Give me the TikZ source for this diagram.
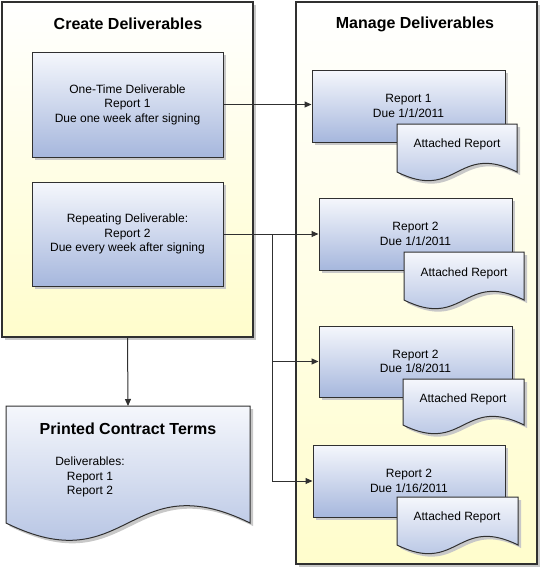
\documentclass[tikz,border=0pt]{standalone}
\usepackage{fontspec}
\setmainfont{Liberation Sans}
\usetikzlibrary{positioning,shadows,arrows.meta}
\definecolor{boxtop}{HTML}{F5F7FC}
\definecolor{boxbot}{HTML}{A6B7DD}
\definecolor{lanetop}{HTML}{FFFFFF}
\definecolor{lanebot}{HTML}{FFFDCC}
\definecolor{shadowc}{HTML}{C8C8C8}
\definecolor{linec}{HTML}{303030}
\tikzset{
  lane/.style={
    rectangle,
    draw=linec,
    line width=1.2pt,
    top color=lanetop,
    bottom color=lanebot,
    drop shadow={shadow xshift=3pt, shadow yshift=-3pt, fill=shadowc, opacity=1},
  },
  task/.style={
    rectangle,
    draw=linec,
    line width=1pt,
    inner sep=0pt,
    top color=boxtop,
    bottom color=boxbot,
    align=center,
    font=\fontsize{12}{14.5}\selectfont,
    drop shadow={shadow xshift=3pt, shadow yshift=-3pt, fill=shadowc, opacity=1},
  },
  lanetitle/.style={font=\bfseries\fontsize{16}{18}\selectfont},
  doctext/.style={align=center, font=\fontsize{12}{14.5}\selectfont},
  flow/.style={-{Triangle[length=7pt,width=6pt]}, line width=1pt, linec},
}
% wavy document: x0, y0, width, side height, bend
\newcommand\docshape[5]{%
  \fill[shadowc] ({#1+3},{#2+3}) -- ++(#3,0) -- ++(0,#4)
    .. controls ({#1+3+0.5*#3},{#2+3+#4-#5}) and ({#1+3+0.5*#3},{#2+3+#4+#5}) .. ({#1+3},{#2+3+#4}) -- cycle;
  \draw[line width=1pt, draw=linec, top color=boxtop, bottom color=boxbot]
    (#1,#2) -- ++(#3,0) -- ++(0,#4)
    .. controls ({#1+0.5*#3},{#2+#4-#5}) and ({#1+0.5*#3},{#2+#4+#5}) .. (#1,{#2+#4}) -- cycle;
}

\begin{document}
\begin{tikzpicture}[x=1pt, y=-1pt]
  \useasboundingbox (0,0) rectangle (540,570);

  % Create side
  \node[lane, minimum width=251pt, minimum height=335pt] (create) at (127.5,169.5) {};
  \node[lanetitle] (createtitle) at (128,24) {Create Deliverables};
  \node[task, minimum width=191pt, minimum height=105pt] (onetime) at (127.5,104.5)
    {One-Time Deliverable\\Report 1\\Due one week after signing};
  \node[task, minimum width=191pt, minimum height=104pt] (repeating) at (127.5,234)
    {Repeating Deliverable:\\Report 2\\Due every week after signing};

  % Printed terms
  \docshape{6}{406}{244}{117}{60}
  \node[minimum width=244pt, minimum height=117pt, inner sep=0pt, anchor=north] (printed) at (128,406) {};
  \node[lanetitle] (printedtitle) at (128,429) {Printed Contract Terms};
  \node[doctext] (printedlist) at (90,477) {Deliverables:\\Report 1\\Report 2};

  % Manage side
  \node[lane, minimum width=241pt, minimum height=562pt] (manage) at (416.5,283) {};
  \node[lanetitle] (managetitle) at (415,24) {Manage Deliverables};

  \node[task, minimum width=193pt, minimum height=72pt] (rone) at (408.5,106)
    {Report 1\\Due 1/1/2011};
  \docshape{397}{124}{120}{48}{30}
  \node[doctext] (attone) at (457,144) {Attached Report};

  \node[task, minimum width=193pt, minimum height=72pt] (rtwo) at (415.5,234)
    {Report 2\\Due 1/1/2011};
  \docshape{404}{252}{120}{48}{30}
  \node[doctext] (atttwo) at (464,273) {Attached Report};

  \node[task, minimum width=193pt, minimum height=71pt] (rthree) at (415.5,361.5)
    {Report 2\\Due 1/8/2011};
  \docshape{403}{379}{121}{46}{30}
  \node[doctext] (attthree) at (463,399) {Attached Report};

  \node[task, minimum width=192pt, minimum height=72pt] (rfour) at (409,481)
    {Report 2\\Due 1/16/2011};
  \docshape{397}{497}{121}{48}{30}
  \node[doctext] (attfour) at (457,517) {Attached Report};

  % Arrows
  \draw[flow] (create.south) -- (printed.north);
  \draw[flow] (onetime.east) -- (onetime.east -| rone.west);
  \draw[flow] (repeating.east) -- (rtwo.west);
  \coordinate (split) at (272,234);
  \draw[flow] (split) |- (rthree.west);
  \draw[flow] (split) |- (rfour.west);
\end{tikzpicture}
\end{document}
